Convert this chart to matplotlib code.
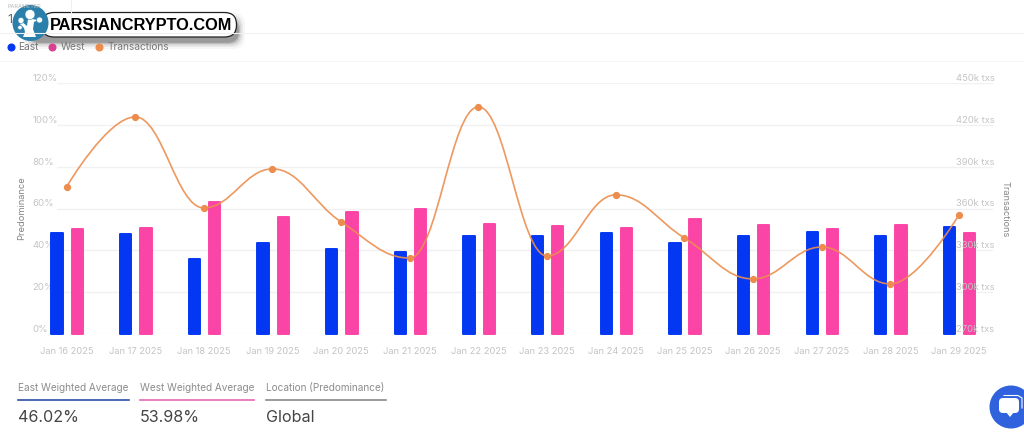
import matplotlib
matplotlib.use("Agg")
import matplotlib.pyplot as plt
import numpy as np
from matplotlib.lines import Line2D
from matplotlib.path import Path
from matplotlib.patches import PathPatch, FancyBboxPatch, Circle, Polygon

plt.rcParams['font.family'] = ['Inter', 'DejaVu Sans']

# Data
dates = ['Jan 16 2025', 'Jan 17 2025', 'Jan 18 2025', 'Jan 19 2025', 'Jan 20 2025',
         'Jan 21 2025', 'Jan 22 2025', 'Jan 23 2025', 'Jan 24 2025', 'Jan 25 2025',
         'Jan 26 2025', 'Jan 27 2025', 'Jan 28 2025', 'Jan 29 2025']
east = [48.3, 47.9, 35.9, 43.5, 40.7, 39.2, 46.9, 46.9, 48.3, 43.5, 46.9, 48.8, 46.9, 51.2]
west = [50.2, 50.7, 63.2, 56.0, 58.4, 59.8, 52.6, 51.7, 50.7, 55.0, 52.1, 50.2, 52.1, 48.3]
transactions = [375.5, 425.7, 360.4, 388.4, 350.4, 324.5, 432.9, 326.0, 369.8, 338.9,
                309.5, 332.4, 305.9, 355.4]
left_ticks = [0, 20, 40, 60, 80, 100, 120]
right_ticks = [270, 300, 330, 360, 390, 420, 450]

BLUE = '#0437f2'
PINK = '#fb45a6'
ORANGE = '#ec8d4e'
TICK = '#c4c4c4'
LABEL = '#858585'
GRID = '#f1f1f1'

fig = plt.figure(figsize=(10.24, 4.34), dpi=100, facecolor='white')
ax = fig.add_axes([57 / 1024, 100 / 434, 936 / 1024, 251 / 434])
ax2 = ax.twinx()

x = np.arange(len(dates))
ax.bar(x - 0.138, east, 0.165, color=BLUE, edgecolor=BLUE, linewidth=1.4, joinstyle='round', clip_on=False)
ax.bar(x + 0.157, west, 0.165, color=PINK, edgecolor=PINK, linewidth=1.4, joinstyle='round', clip_on=False)

ax.set_xlim(-9.5 / 68.65, (993 - 66.5) / 68.65)
ax.set_ylim(0, 120)
ax2.set_ylim(270, 450)
ax.set_xticks(x)
ax.set_xticklabels(dates)
ax.set_yticks(left_ticks)
ax.set_yticklabels(['{}%'.format(t) for t in left_ticks], ha='left', va='bottom')
ax2.set_yticks(right_ticks)
ax2.set_yticklabels(['{}k txs'.format(t) for t in right_ticks], ha='right', va='bottom')

ax.tick_params(axis='x', length=0, pad=9.3, labelsize=6.7, labelcolor=TICK)
ax.tick_params(axis='y', length=0, pad=17.5, labelsize=6.9, labelcolor=TICK)
ax2.tick_params(axis='y', length=0, pad=1, labelsize=6.8, labelcolor=TICK)
ax.grid(axis='y', color=GRID, linewidth=1)
ax.set_axisbelow(True)
for a in (ax, ax2):
    for s in a.spines.values():
        s.set_visible(False)
ax2.patch.set_visible(False)

# Spline through the points, control points flattened at the local peaks
verts = [(x[0], transactions[0])]
codes = [Path.MOVETO]
for i in range(1, len(x)):
    c1 = (x[i - 1], transactions[i - 1])
    c2 = (x[i], transactions[i])
    if i > 1:
        slope = (transactions[i] - transactions[i - 2]) / 2
        cy = transactions[i - 1] + 0.4 * slope
        cy = min(max(cy, min(transactions[i - 1], transactions[i])), max(transactions[i - 1], transactions[i]))
        if (transactions[i - 1] - transactions[i - 2]) * (transactions[i] - transactions[i - 1]) < 0:
            cy = transactions[i - 1]
        c1 = (x[i - 1] + 0.4, cy)
    if i < len(x) - 1:
        slope = (transactions[i + 1] - transactions[i - 1]) / 2
        cy = transactions[i] - 0.4 * slope
        cy = min(max(cy, min(transactions[i - 1], transactions[i])), max(transactions[i - 1], transactions[i]))
        if (transactions[i] - transactions[i - 1]) * (transactions[i + 1] - transactions[i]) < 0:
            cy = transactions[i]
        c2 = (x[i] - 0.4, cy)
    verts += [c1, c2, (x[i], transactions[i])]
    codes += [Path.CURVE4, Path.CURVE4, Path.CURVE4]
ax2.add_patch(PathPatch(Path(verts, codes), facecolor='none', edgecolor=ORANGE,
                        linewidth=1.2, alpha=0.9, clip_on=False))
ax2.plot(x, transactions, linestyle='none', marker='o', markersize=4.2, color=ORANGE, clip_on=False)

fig.text(22 / 1024, 1 - 208.5 / 434, 'Predominance', rotation=90, ha='center', va='center',
         fontsize=6.7, color=LABEL)
fig.text(1005 / 1024, 1 - 209 / 434, 'Transactions', rotation=270, ha='center', va='center',
         fontsize=6.6, color=LABEL)

# Everything else is placed in pixel coordinates on an overlay
ov = fig.add_axes([0, 0, 1, 1])
ov.set_xlim(0, 1024)
ov.set_ylim(434, 0)
ov.axis('off')

# Page rules and the header cut off behind the logo
ov.add_line(Line2D([0, 1024], [33, 33], color='#f0f0f0', linewidth=0.8))
ov.add_line(Line2D([0, 1024], [61, 61], color='#f6f6f6', linewidth=0.8))
ov.add_line(Line2D([71, 71], [0, 33], color='#f0f0f0', linewidth=0.8))
ov.text(7, 6, 'PARAMETER', fontsize=4, color='#b5b5b5', va='center')
ov.text(7, 20, '1', fontsize=9, color='#666666', va='center')

# Legend
legend_items = [('East', BLUE, 11, 18), ('West', '#d9408f', 52, 61), ('Transactions', ORANGE, 99, 108)]
for name, col, cx, tx in legend_items:
    ov.plot([cx], [47], marker='o', markersize=4.8, color=col, linestyle='none')
    ov.text(tx, 47, name, fontsize=7.3, color='#777777', va='center')

# Bottom cards
cards = [('East Weighted Average', '46.02%', 18, 129, '#2b50a8'),
         ('West Weighted Average', '53.98%', 140, 254, '#e56ab3'),
         ('Location (Predominance)', 'Global', 266, 386, '#8a8a8a')]
for title, value, x0, x1, col in cards:
    ov.text(x0, 388, title, fontsize=7.2, color='#8c8c8c', va='center')
    ov.add_line(Line2D([x0, x1], [400, 400], color=col, linewidth=1.2))
    ov.text(x0, 417, value, fontsize=11.6, color='#454545', va='center')

# Logo
for grow, alpha in [(7, 0.03), (5, 0.05), (3.5, 0.08), (2, 0.12), (0.8, 0.18)]:
    ov.add_patch(FancyBboxPatch((30 - grow, 20 - grow), 208 + 2 * grow, 22 + 2 * grow,
                                boxstyle='round,pad=0,rounding_size=11', facecolor='black',
                                edgecolor='none', alpha=alpha))
ov.add_patch(FancyBboxPatch((42, 12.5), 194.5, 24.5, boxstyle='round,pad=0,rounding_size=12',
                            facecolor='white', edgecolor='#222222', linewidth=0.9))
ov.text(141, 25, 'PARSIANCRYPTO.COM', fontsize=11.8, fontweight='bold', color='black',
        ha='center', va='center', family=['Liberation Sans', 'DejaVu Sans'])
ov.add_patch(Circle((30.5, 23), 18, facecolor='#2a80ab', edgecolor='none'))
ov.add_patch(Polygon([(23, 37), (36, 37), (33, 29), (34, 22), (38, 20), (32, 19), (28, 19),
                      (27, 26), (21, 21), (20, 24), (24, 28), (25, 32)],
                     facecolor='white', edgecolor='none'))
for cx, cy, r in [(30, 14.5, 5), (21, 20.5, 3), (39.5, 20, 3), (20, 27.5, 2.2)]:
    ov.add_patch(Circle((cx, cy), r, facecolor='white', edgecolor='#2a80ab', linewidth=0.4))

# Chat button
ov.add_patch(Circle((1011, 407), 21.5, facecolor='#2f62dc', edgecolor='none'))
ov.add_patch(FancyBboxPatch((999, 398), 20, 15, boxstyle='round,pad=0,rounding_size=4',
                            facecolor='white', edgecolor='none'))
ov.add_patch(Polygon([(1006, 412), (1014, 412), (1010, 417)], facecolor='white', edgecolor='none'))
ov.add_line(Line2D([1004, 1018, 1022, 1022], [395.5, 395.5, 398, 408], color='white', linewidth=0.8))

fig.savefig('out.png', dpi=100)
